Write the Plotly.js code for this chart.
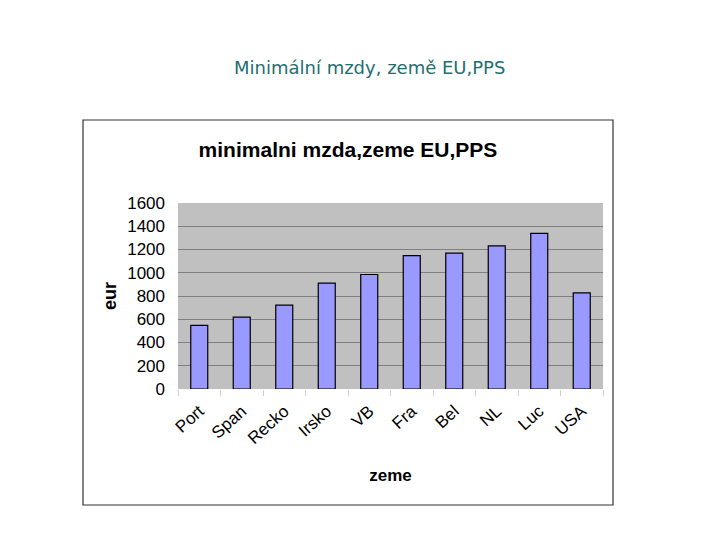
<!DOCTYPE html>
<html>
<head>
<meta charset="utf-8">
<script src="https://cdn.plot.ly/plotly-3.0.1.min.js"></script>
<style>html,body{margin:0;padding:0;background:#fff;}#chart{width:720px;height:540px;}</style>
</head>
<body>
<div id="chart"></div>
<script>
const countries = ["Port", "Span", "Recko", "Irsko", "VB", "Fra", "Bel", "NL", "Luc", "USA"];
const minWage = [547, 618, 721, 910, 985, 1148, 1168, 1231, 1339, 827];
const yTicks = [0, 200, 400, 600, 800, 1000, 1200, 1400, 1600];

const trace = {
  type: "bar",
  x: countries,
  y: minWage,
  marker: {color: "#9999FF", line: {color: "#000000", width: 1.2}},
  hoverinfo: "x+y"
};

const layout = {
  width: 720, height: 540,
  paper_bgcolor: "#ffffff",
  plot_bgcolor: "#C0C0C0",
  margin: {l: 178, r: 117, t: 203, b: 151},
  showlegend: false,
  bargap: 0.6,
  title: {
    text: "<b>minimalni mzda,zeme EU,PPS</b>",
    font: {family: "Liberation Sans, Arial, sans-serif", size: 21, color: "#000"},
    x: 348 / 720, xanchor: "center",
    y: 1 - 150 / 540, yanchor: "middle"
  },
  xaxis: {
    type: "category",
    tickangle: -42,
    tickfont: {family: "Liberation Sans, Arial, sans-serif", size: 17, color: "#000"},
    ticks: "outside", tickson: "boundaries", ticklen: 6, tickcolor: "#d0d0d0",
    ticklabelstandoff: 8,
    showline: false, showgrid: false, zeroline: false,
    title: {text: "<b>zeme</b>", font: {family: "Liberation Sans, Arial, sans-serif", size: 17, color: "#000"}, standoff: 22}
  },
  yaxis: {
    range: [0, 1600],
    tickvals: yTicks,
    ticktext: yTicks.map(String),
    tickfont: {family: "Liberation Sans, Arial, sans-serif", size: 17, color: "#000"},
    showgrid: true, gridcolor: "#808080", gridwidth: 1,
    zeroline: false, showline: false, ticks: "",
    ticklabelstandoff: 12,
    title: {text: "<b>eur</b>", font: {family: "Liberation Sans, Arial, sans-serif", size: 18, color: "#000"}, standoff: 5}
  },
  shapes: [{
    type: "rect", xref: "paper", yref: "paper",
    x0: (83 - 178) / 425, x1: (613 - 178) / 425,
    y0: (540 - 151 - 505) / 186, y1: (540 - 151 - 120) / 186,
    line: {color: "#333333", width: 1.2}, fillcolor: "rgba(0,0,0,0)", layer: "below"
  }],
  annotations: [{
    text: "Minimální mzdy, země EU,PPS",
    xref: "paper", yref: "paper",
    x: (369 - 178) / 425, y: (540 - 151 - 67) / 186,
    xanchor: "center", yanchor: "middle", showarrow: false,
    font: {family: "DejaVu Sans, Verdana, sans-serif", size: 18, color: "#1F6E6E"}
  }]
};

Plotly.newPlot("chart", [trace], layout, {displayModeBar: false, staticPlot: true});
</script>
</body>
</html>
